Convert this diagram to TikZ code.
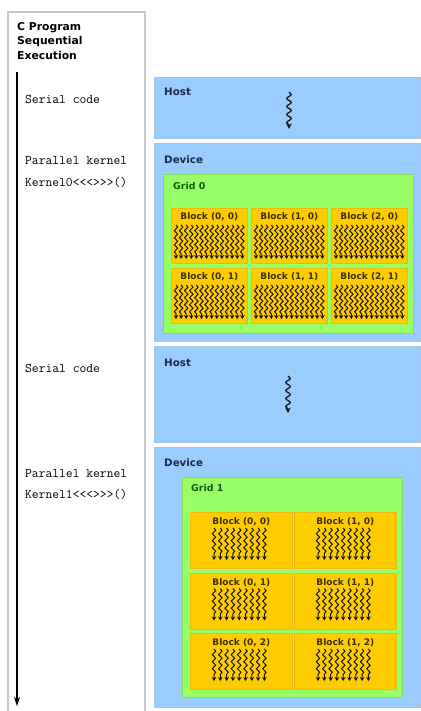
\documentclass[tikz,border=0pt]{standalone}
\usepackage{fontspec}
\setmainfont{DejaVu Sans}
\usepackage{tikz}
\usepackage{xcolor}
\usetikzlibrary{arrows.meta, positioning, calc, decorations.pathmorphing}

\definecolor{hostblue}{HTML}{99CCFF}
\definecolor{panelline}{HTML}{A9C4E0}
\definecolor{gridgreen}{HTML}{99FF66}
\definecolor{gridline}{HTML}{80DD60}
\definecolor{blkgold}{HTML}{FFCC00}
\definecolor{blkline}{HTML}{E8BC10}
\definecolor{hdrnavy}{HTML}{1A2A48}
\definecolor{griddark}{HTML}{0B5A0B}
\definecolor{blktext}{HTML}{3A3000}
\definecolor{frameline}{HTML}{C8C8C8}

\begin{document}
\begin{tikzpicture}[
      x=1pt, y=-1pt,
      panel/.style={draw=panelline, fill=hostblue, line width=0.8pt,
                    inner sep=0pt, anchor=north west},
      gridbox/.style={draw=gridline, fill=gridgreen, line width=1pt,
                      inner sep=0pt, anchor=north west},
      blk/.style={draw=blkline, fill=blkgold, line width=0.8pt,
                  inner sep=0pt, anchor=north west},
      hdr/.style={font=\bfseries\fontsize{10.3}{12}\selectfont, text=hdrnavy,
                  inner sep=0pt, anchor=west},
      gridlbl/.style={font=\bfseries\fontsize{9.4}{11}\selectfont, text=griddark,
                      inner sep=0pt, anchor=west},
      blklbl/.style={font=\bfseries\fontsize{9}{10}\selectfont, text=blktext,
                     inner sep=0pt},
      code/.style={font=\ttfamily\fontsize{13.2}{15}\selectfont, inner sep=0pt,
                   anchor=west},
      thread/.style={draw=black!92, line width=1pt, decorate,
                     decoration={snake, amplitude=1.7pt, segment length=7pt,
                                 post length=3.5pt},
                     -{Stealth[length=4pt, width=4.6pt]}},
      hostthread/.style={draw=black!90, line width=1.3pt, decorate,
                         decoration={snake, amplitude=2.3pt, segment length=8pt,
                                     post length=4pt},
                         -{Stealth[length=5.5pt, width=5.5pt]}},
      arr/.style={-{Stealth[length=9pt, width=6pt]}, line width=1.1pt}
    ]
    \useasboundingbox (0,0) rectangle (420,711);

    % left column: sequential C program
    \draw[frameline, line width=1.5pt] (8,711) -- (8,12) -- (145,12) -- (145,711);
    \node[font=\bfseries\fontsize{10.8}{14.5}\selectfont, align=left,
          inner sep=0pt, anchor=north west] (prog) at (17,22)
          {C Program\\Sequential\\Execution};
    \coordinate (t0) at (17,72);
    \coordinate (t1) at (17,706);
    \draw[arr] (t0) -- (t1);

    \node[code] (serA) at (25,99) {Serial code};
    \node[code] (parA) at (25,161) {Parallel kernel};
    \node[code] (kerA) at (25,182) {Kernel0<{}<{}<{}>{}>{}>()};
    \node[code] (serB) at (25,368) {Serial code};
    \node[code] (parB) at (25,474) {Parallel kernel};
    \node[code] (kerB) at (25,494) {Kernel1<{}<{}<{}>{}>{}>()};

    % host 1
    \node[panel, minimum width=266, minimum height=61] (hostA) at (154,77) {};
    \node[hdr] (hostAlbl) at ($(hostA.north west)+(10,15)$) {Host};
    \coordinate (hA0) at (289,92);
    \coordinate (hA1) at (289,129);
    \draw[hostthread] (hA0) -- (hA1);

    % device 1 with grid 0
    \node[panel, minimum width=266, minimum height=198] (devA) at (154,143) {};
    \node[hdr] (devAlbl) at ($(devA.north west)+(10,17)$) {Device};
    \node[gridbox, minimum width=250, minimum height=159] (gridA) at (163,174) {};
    \node[gridlbl] (gridAlbl) at ($(gridA.north west)+(10,12)$) {Grid 0};
    \foreach \i in {0,1,2}
      \foreach \j in {0,1} {
        \node[blk, minimum width=76, minimum height=55] (bA\i\j)
              at ({171+80*\i},{208+60*\j}) {};
        \node[blklbl] (lA\i\j) at ($(bA\i\j.north)+(0,9)$) {Block (\i, \j)};
        \foreach \k in {0,...,13}
          \draw[thread] ($(bA\i\j.north west)+({5+5.1*\k},17)$) -- ++(0,34);
      }

    % host 2
    \node[panel, minimum width=266, minimum height=96] (hostB) at (154,346) {};
    \node[hdr] (hostBlbl) at ($(hostB.north west)+(10,17)$) {Host};
    \coordinate (hB0) at (288,376);
    \coordinate (hB1) at (288,413);
    \draw[hostthread] (hB0) -- (hB1);

    % device 2 with grid 1
    \node[panel, minimum width=266, minimum height=260] (devB) at (154,447) {};
    \node[hdr] (devBlbl) at ($(devB.north west)+(10,16)$) {Device};
    \node[gridbox, minimum width=220, minimum height=220] (gridB) at (182,477) {};
    \node[gridlbl] (gridBlbl) at ($(gridB.north west)+(9,11)$) {Grid 1};
    \foreach \i in {0,1}
      \foreach \j in {0,1,2} {
        \node[blk, minimum width=102, minimum height=56] (bB\i\j)
              at ({190+104*\i},{512+60.5*\j}) {};
        \node[blklbl] (lB\i\j) at ($(bB\i\j.north)+(0,10)$) {Block (\i, \j)};
        \foreach \k in {0,...,8}
          \draw[thread] ($(bB\i\j.north west)+({24+6.3*\k},16)$) -- ++(0,32);
      }
  \end{tikzpicture}
\end{document}
